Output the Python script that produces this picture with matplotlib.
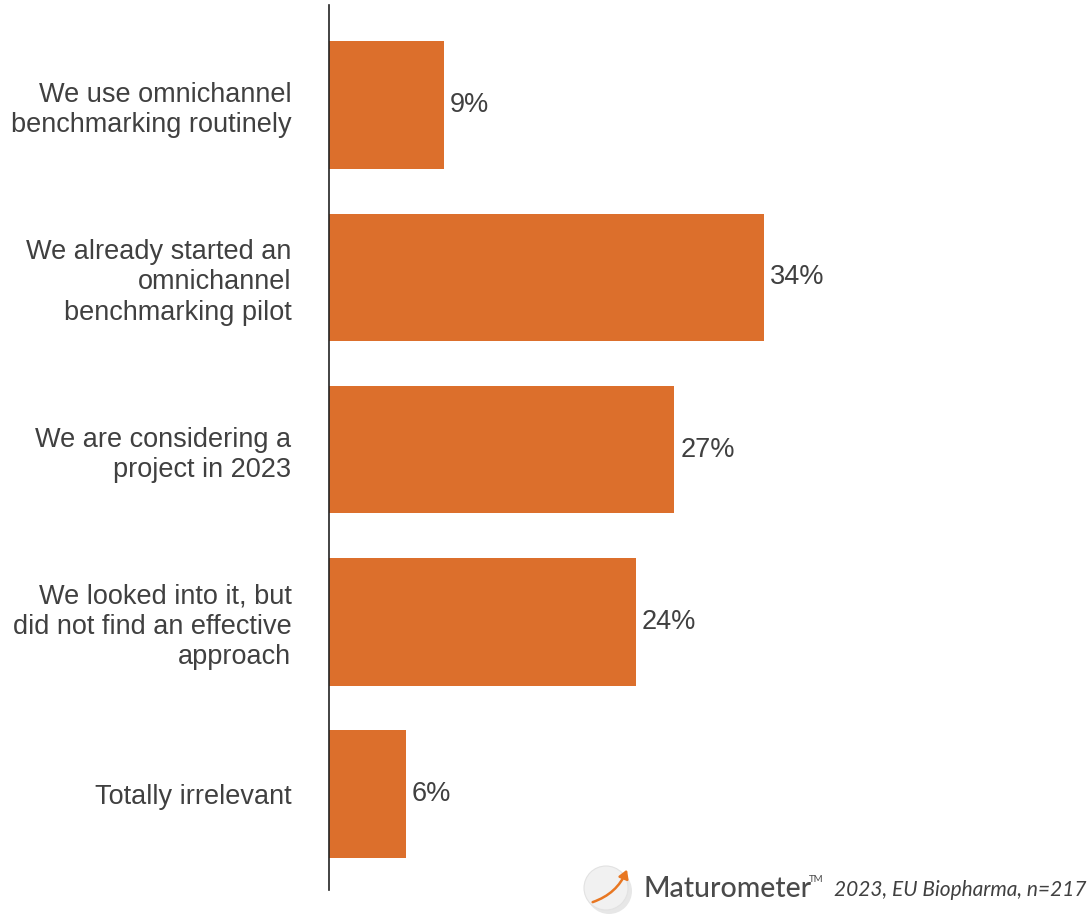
import matplotlib.pyplot as plt
from matplotlib.patches import Circle, FancyArrowPatch

plt.rcParams['font.family'] = ['Liberation Sans', 'DejaVu Sans']

answers = [
    "We use omnichannel\nbenchmarking routinely",
    "We already started an\nomnichannel\nbenchmarking pilot",
    "We are considering a\nproject in 2023",
    "We looked into it, but\ndid not find an effective\napproach",
    "Totally irrelevant",
]
shares = [9, 34, 27, 24, 6]

bar_color = "#DC6F2C"
text_color = "#404040"

fig = plt.figure(figsize=(10.89, 9.17), dpi=100)
ax = fig.add_axes([0.302, 0.0294, 0.698, 0.9651])

ypos = list(range(len(answers)))
ax.barh(ypos, shares, height=0.74, color=bar_color)
ax.set_ylim(4.557, -0.58)
ax.set_xlim(0, 59.4)

for y, v in zip(ypos, shares):
    ax.text(v + 0.45, y, f"{v}%", va="center", ha="left",
            fontsize=19.5, color=text_color)

ax.set_yticks(ypos)
ax.set_yticklabels(answers, fontsize=19.5, color=text_color, linespacing=1.22)
ax.tick_params(axis="y", length=0, pad=27)
ax.set_xticks([])
for s in ["top", "right", "bottom"]:
    ax.spines[s].set_visible(False)
ax.spines["left"].set_color("#222222")
ax.spines["left"].set_linewidth(1.2)

# source badge in the bottom-right corner
W, H = 1089, 917
logo = fig.add_axes([0, 0, 1, 1], zorder=5)
logo.set_xlim(0, W)
logo.set_ylim(H, 0)
logo.axis("off")
logo.add_patch(Circle((609, 891), 23, facecolor="#d8d8d8", edgecolor="none", alpha=0.6))
logo.add_patch(Circle((606, 888), 22, facecolor="#f1f1f1", edgecolor="#e2e2e2", lw=0.8))
logo.add_patch(FancyArrowPatch((590, 903), (628, 867),
                               connectionstyle="arc3,rad=0.25",
                               arrowstyle="-|>,head_length=5,head_width=3",
                               color="#E87722", lw=1.8))
logo.text(643, 889, "Maturometer", fontsize=20.5, color="#4a4a4a",
          family="Lato", weight="medium", va="center", ha="left")
logo.text(809, 880, "TM", fontsize=7, color="#4a4a4a",
          family="Lato", va="center", ha="left")
logo.text(1086, 890, "2023, EU Biopharma, n=217", fontsize=15, color="#404040",
          family="Lato", style="italic", va="center", ha="right")

fig.savefig("out.png", dpi=100, facecolor="white")
